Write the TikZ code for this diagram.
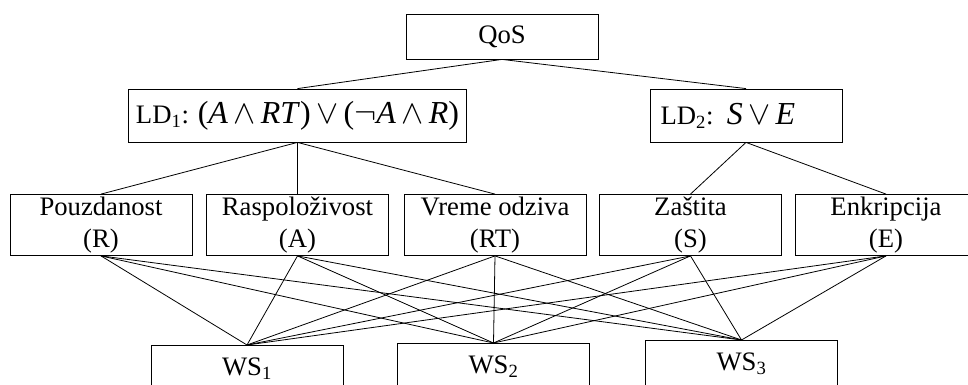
\documentclass[tikz,border=0pt]{standalone}
\usepackage{fontspec}
\setmainfont{Liberation Serif}
\newcommand{\ldmath}[1]{{\fontsize{24}{28}\selectfont #1}}
\tikzset{
  box/.style={draw, line width=0.6pt, inner sep=0pt, font=\fontsize{20}{23.5}\selectfont, align=center},
  conn/.style={line width=0.6pt}
}
\begin{document}
\begin{tikzpicture}[x=0.75pt, y=-0.75pt]
\useasboundingbox (0,0) rectangle (968,385);
% top
\node[box, minimum width=144pt, minimum height=33.75pt] (qos) at (502,36.5) {QoS};
\node[box, minimum width=254pt, minimum height=39.75pt] (ld1) at (297.5,115.5)
  {LD\textsubscript{1}: \ldmath{(\textit{A}\,$\wedge$\,\textit{RT})\,$\vee$\,($\neg$\textit{A}\,$\wedge$\,\textit{R})}};
\node[box, minimum width=144pt, minimum height=39.75pt, text width=128pt, align=left] (ld2) at (746,115.5)
  {LD\textsubscript{2}: \ldmath{\textit{S}\,$\vee$\,\textit{E}}};
% criteria
\node[box, minimum width=136.5pt, minimum height=45.75pt] (r) at (101,225) {Pouzdanost\\(R)};
\node[box, minimum width=136.5pt, minimum height=45.75pt] (a) at (297.5,225) {Raspoloživost\\(A)};
\node[box, minimum width=136.5pt, minimum height=45.75pt] (rt) at (495,225) {Vreme odziva\\(RT)};
\node[box, minimum width=136.5pt, minimum height=45.75pt] (s) at (690.5,225) {Zaštita\\(S)};
\node[box, minimum width=136.5pt, minimum height=45.75pt] (e) at (886,225) {Enkripcija\\(E)};
% services
\node[box, anchor=north, minimum width=144pt, minimum height=35pt] (ws1) at (247,345) {WS\textsubscript{1}};
\node[box, anchor=north, minimum width=144pt, minimum height=35pt] (ws2) at (493.5,343) {WS\textsubscript{2}};
\node[box, anchor=north, minimum width=144pt, minimum height=35pt] (ws3) at (741.5,340) {WS\textsubscript{3}};

\draw[conn] (qos.south)--(ld1.north);
\draw[conn] (qos.south)--(ld2.north);
\foreach \c in {r,a,rt}{
\draw[conn] (ld1.south)--(\c.north);
}
\foreach \c in {s,e}{
\draw[conn] (ld2.south)--(\c.north);
}
\foreach \c in {r,a,rt,s,e}{
\foreach \w in {ws1,ws2,ws3}{
\draw[conn] (\c.south)--(\w.north);
}
}
\end{tikzpicture}
\end{document}
